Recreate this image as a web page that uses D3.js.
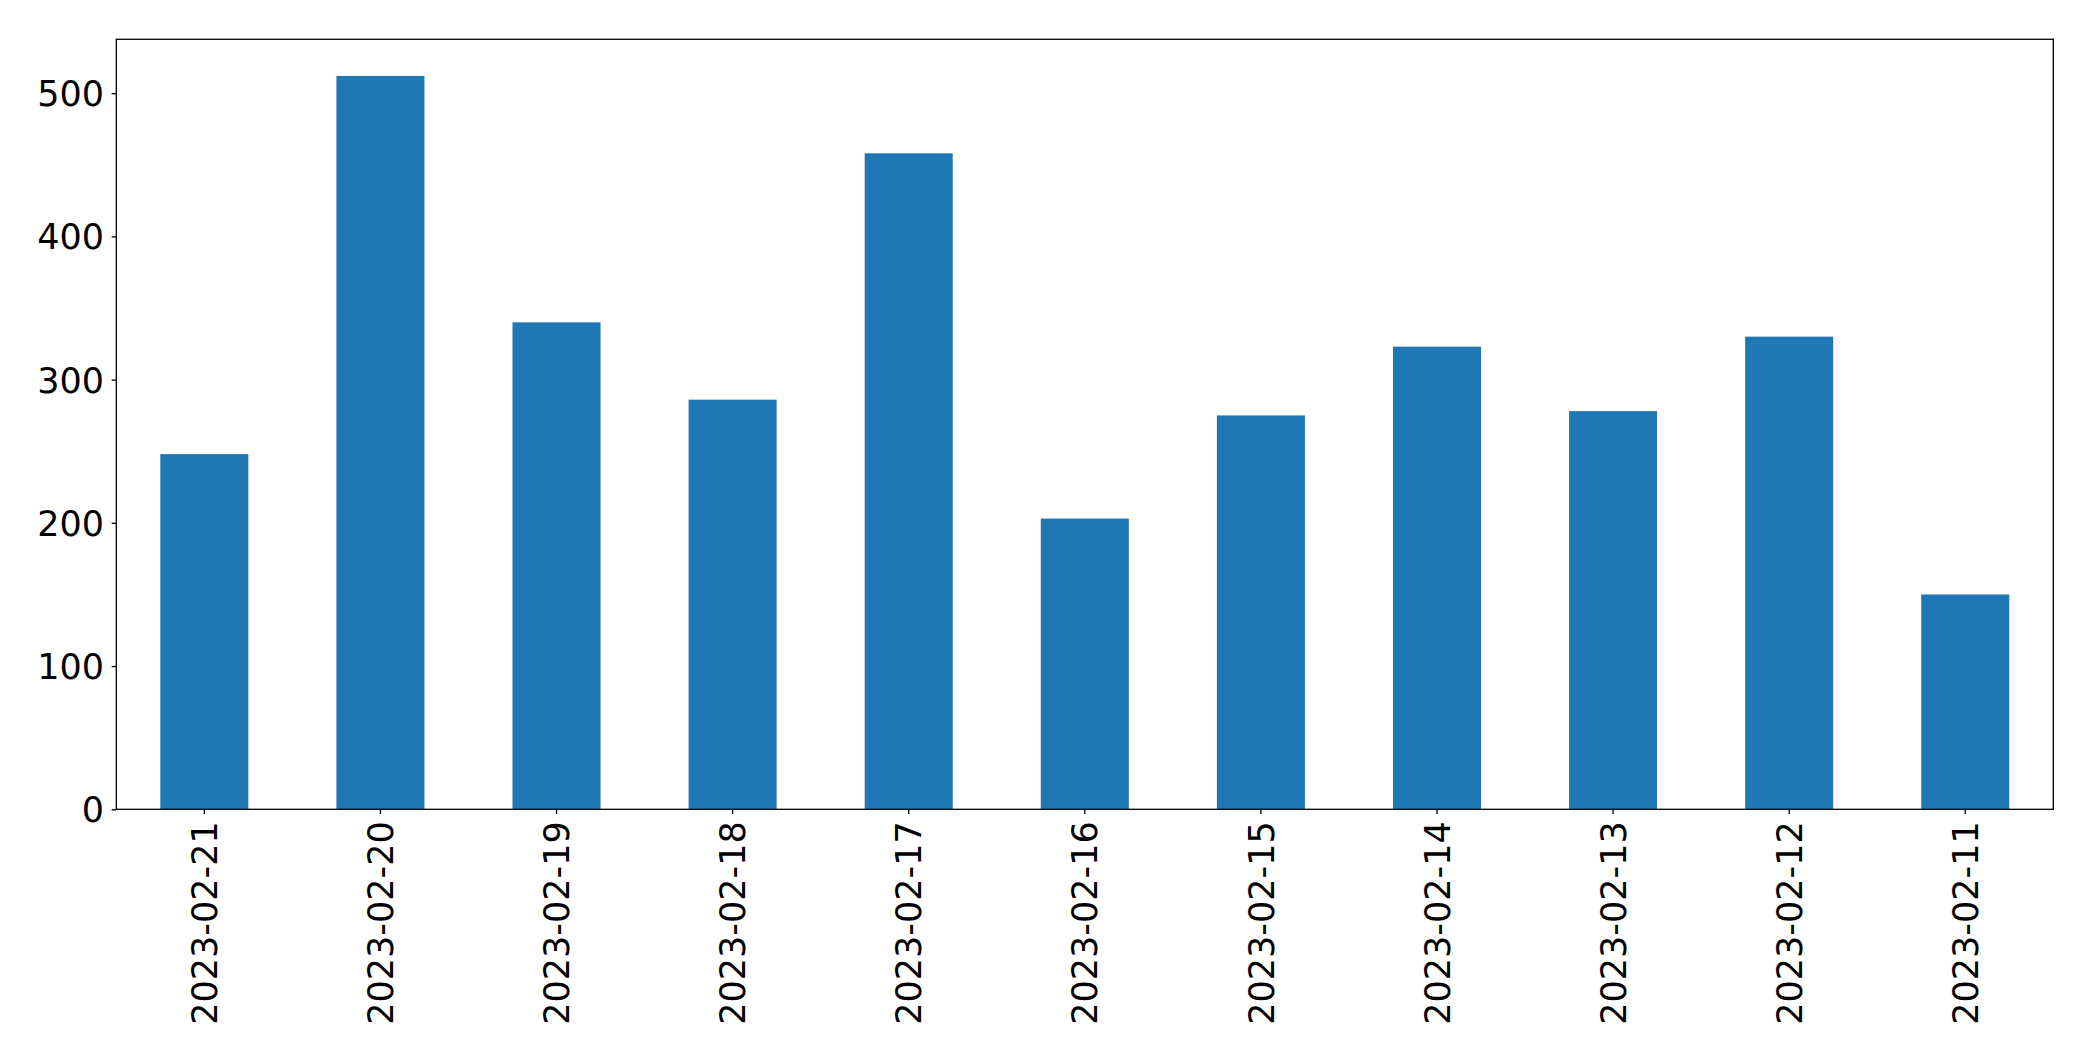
<!DOCTYPE html>
<html>
<head>
<meta charset="utf-8">
<script src="https://cdn.jsdelivr.net/npm/d3@7"></script>
<style>
html,body{margin:0;padding:0;background:#fff;}
svg{display:block;}
text{font-family:"DejaVu Sans",sans-serif;fill:#000;}
</style>
</head>
<body>
<svg id="chart" width="2093" height="1061"></svg>
<script>
const categories = ["2023-02-21","2023-02-20","2023-02-19","2023-02-18","2023-02-17","2023-02-16","2023-02-15","2023-02-14","2023-02-13","2023-02-12","2023-02-11"];
const values = [248, 512, 340, 286, 458, 203, 275, 323, 278, 330, 150];
const yTicks = [0, 100, 200, 300, 400, 500];

const W = 2093, H = 1061;
const m = {left: 116.3, right: 2053.3, top: 39.3, bottom: 809.3};
const svg = d3.select("#chart");

const x = d3.scaleBand().domain(categories).range([m.left, m.right]).paddingInner(0.5).paddingOuter(0.25);
const y = d3.scaleLinear().domain([0, 537.6]).range([m.bottom, m.top]);

svg.append("g").selectAll("rect").data(values).join("rect")
  .attr("x", (d,i) => x(categories[i]))
  .attr("width", x.bandwidth())
  .attr("y", d => y(d))
  .attr("height", d => y(0) - y(d))
  .attr("fill", "#1f77b4");

const fs = 35;
const yAxis = d3.axisLeft(y).tickValues(yTicks).tickSize(4.7).tickPadding(7.5).tickFormat(d3.format("d"));
const gy = svg.append("g").attr("transform", `translate(${m.left},0)`).call(yAxis);
gy.select(".domain").remove();
gy.selectAll("line").attr("stroke", "#000").attr("stroke-width", 1.3);
gy.selectAll("text").attr("font-size", fs).attr("dy", "0.36em").style("font-family", '"DejaVu Sans",sans-serif');

const xAxis = d3.axisBottom(x).tickSize(4.7).tickPadding(0);
const gx = svg.append("g").attr("transform", `translate(0,${m.bottom})`).call(xAxis);
gx.select(".domain").remove();
gx.selectAll("line").attr("stroke", "#000").attr("stroke-width", 1.3);
gx.selectAll("text")
  .attr("font-size", fs)
  .style("font-family", '"DejaVu Sans",sans-serif')
  .attr("text-anchor", "end")
  .attr("transform", "translate(0,12) rotate(-90)")
  .attr("x", 0).attr("y", 0).attr("dy", "0.36em");

svg.append("rect")
  .attr("x", m.left).attr("y", m.top)
  .attr("width", m.right - m.left).attr("height", m.bottom - m.top)
  .attr("fill", "none").attr("stroke", "#000").attr("stroke-width", 1.3);
</script>
</body>
</html>
